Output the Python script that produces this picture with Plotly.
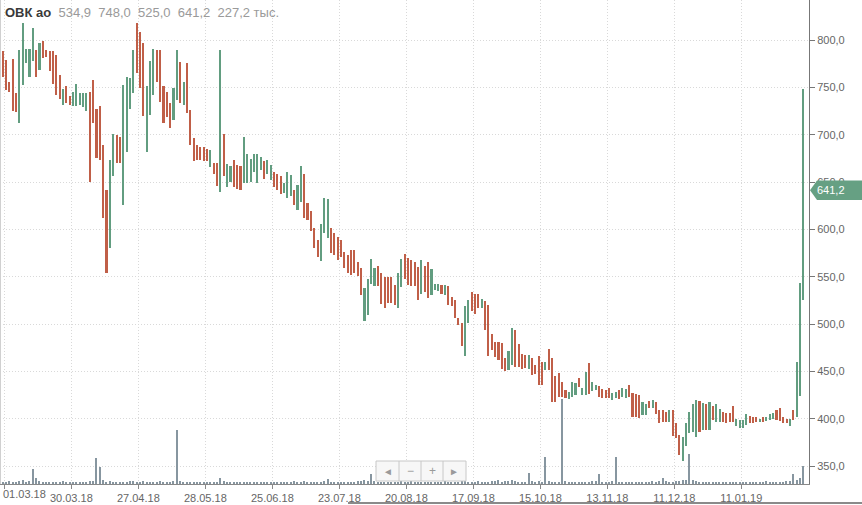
import plotly.graph_objects as go

# ---- data ----
highs = [
    788, 779, 756, 780, 744, 790, 818, 791, 791, 813,
    790, 797, 799, 790, 788, 788, 784, 763, 748, 751,
    741, 745, 754, 744, 744, 744, 745, 758, 727, 730,
    689, 642, 673, 701, 700, 698, 752, 761, 760, 790,
    818, 809, 797, 751, 778, 791, 789, 789, 751, 745,
    733, 749, 789, 777, 756, 776, 726, 697, 689, 687,
    687, 685, 684, 670, 670, 790, 701, 669, 667, 673,
    668, 667, 698, 680, 674, 680, 680, 676, 672, 673,
    668, 661, 659, 656, 649, 661, 657, 642, 647, 667,
    659, 628, 619, 601, 589, 606, 633, 632, 601, 596,
    592, 589, 576, 573, 578, 578, 566, 559, 538, 548,
    569, 559, 561, 554, 550, 550, 550, 541, 554, 569,
    574, 570, 568, 566, 560, 568, 561, 565, 558, 542,
    542, 541, 541, 540, 529, 525, 506, 501, 519, 525,
    534, 532, 532, 526, 524, 520, 489, 481, 481, 480,
    464, 471, 496, 494, 479, 468, 467, 467, 464, 457,
    466, 460, 460, 474, 464, 445, 448, 439, 430, 428,
    439, 438, 443, 432, 449, 459, 439, 436, 435, 431,
    430, 432, 427, 428, 430, 432, 431, 436, 427, 426,
    425, 418, 415, 419, 420, 418, 409, 409, 407, 409,
    409, 395, 383, 381, 395, 407, 415, 420, 419, 417,
    416, 418, 413, 415, 410, 407, 406, 406, 413, 400,
    399, 399, 405, 403, 402, 402, 400, 402, 402, 405,
    406, 409, 411, 402, 400, 400, 409, 460, 543, 748,
]
lows = [
    761, 747, 745, 725, 724, 712, 752, 776, 761, 778,
    761, 768, 781, 782, 767, 754, 742, 738, 731, 734,
    731, 730, 730, 731, 729, 725, 650, 712, 675, 673,
    612, 554, 580, 656, 670, 670, 626, 682, 727, 744,
    765, 749, 720, 682, 721, 742, 756, 735, 712, 719,
    707, 716, 737, 733, 731, 723, 689, 672, 673, 673,
    672, 672, 666, 658, 646, 640, 656, 645, 650, 645,
    643, 642, 649, 649, 650, 661, 649, 663, 653, 659,
    652, 645, 642, 637, 638, 633, 635, 626, 620, 629,
    612, 610, 598, 580, 571, 567, 596, 591, 575, 573,
    568, 571, 559, 554, 552, 554, 551, 531, 503, 510,
    542, 540, 540, 521, 517, 522, 522, 520, 517, 539,
    548, 541, 540, 540, 525, 532, 534, 527, 531, 536,
    535, 532, 531, 520, 519, 506, 499, 477, 466, 501,
    514, 511, 517, 517, 494, 466, 473, 465, 462, 453,
    450, 451, 457, 455, 455, 453, 454, 453, 446, 447,
    436, 436, 451, 451, 418, 418, 423, 423, 422, 421,
    423, 425, 434, 425, 425, 426, 429, 430, 423, 422,
    422, 422, 420, 422, 421, 423, 422, 423, 402, 402,
    401, 404, 404, 411, 411, 405, 395, 396, 396, 397,
    382, 380, 362, 355, 371, 385, 386, 381, 386, 388,
    388, 388, 399, 396, 396, 396, 395, 396, 396, 392,
    390, 390, 393, 395, 395, 396, 397, 396, 398, 399,
    400, 399, 398, 395, 395, 392, 399, 402, 424, 525,
]
# 1 = rising bar (green), 0 = falling bar (red)
rising = [
    0, 0, 0, 0, 0, 1, 1, 1, 1, 1,
    0, 1, 0, 0, 0, 0, 0, 0, 1, 0,
    0, 1, 1, 1, 1, 1, 0, 0, 0, 0,
    0, 0, 1, 1, 0, 0, 1, 1, 1, 1,
    0, 0, 0, 1, 1, 1, 0, 0, 0, 0,
    0, 1, 1, 0, 1, 0, 0, 0, 0, 0,
    0, 0, 1, 0, 0, 1, 0, 1, 1, 0,
    0, 0, 1, 1, 1, 1, 1, 1, 0, 1,
    1, 0, 0, 0, 1, 1, 1, 0, 1, 1,
    0, 0, 0, 0, 0, 1, 1, 1, 0, 0,
    0, 0, 0, 0, 0, 0, 0, 0, 1, 1,
    1, 1, 0, 0, 0, 0, 0, 0, 1, 1,
    0, 0, 0, 0, 0, 1, 0, 0, 1, 1,
    1, 0, 1, 0, 0, 0, 0, 0, 1, 1,
    0, 0, 0, 1, 0, 0, 0, 0, 0, 0,
    0, 1, 1, 0, 0, 0, 0, 1, 0, 0,
    0, 0, 1, 0, 0, 0, 0, 0, 0, 1,
    1, 1, 0, 1, 1, 0, 1, 1, 0, 0,
    0, 0, 1, 1, 0, 1, 1, 0, 0, 0,
    0, 1, 1, 0, 1, 0, 0, 0, 0, 1,
    0, 0, 0, 1, 1, 1, 1, 1, 0, 1,
    0, 1, 0, 1, 1, 0, 0, 0, 0, 1,
    1, 1, 1, 0, 0, 0, 1, 0, 1, 1,
    1, 0, 0, 0, 0, 1, 0, 1, 1, 1,
]
# volume, thousands of shares
volumes = [
    30, 25, 35, 20, 30, 40, 45, 30, 35, 190, 75, 40, 25, 20, 30, 25, 20, 30, 35, 25,
    20, 25, 30, 20, 25, 30, 40, 35, 330, 215, 45, 30, 35, 25, 20, 30, 25, 30, 35, 40,
    30, 25, 35, 30, 25, 20, 30, 35, 25, 20, 30, 40, 680, 35, 30, 25, 30, 20, 25, 30,
    25, 30, 20, 25, 30, 75, 40, 30, 25, 20, 25, 30, 20, 25, 30, 25, 20, 25, 30, 20,
    25, 20, 30, 25, 20, 25, 30, 35, 25, 30, 40, 30, 25, 20, 25, 30, 35, 65, 30, 25,
    20, 25, 30, 25, 20, 30, 35, 40, 45, 40, 125, 35, 30, 25, 20, 25, 30, 25, 30, 35,
    30, 25, 65, 30, 25, 20, 25, 30, 25, 20, 25, 30, 35, 25, 20, 25, 30, 35, 40, 30,
    25, 30, 35, 30, 25, 30, 35, 40, 45, 30, 35, 40, 45, 35, 30, 25, 30, 140, 40, 30,
    35, 30, 340, 35, 30, 25, 30, 1070, 35, 30, 25, 30, 25, 20, 25, 30, 35, 40, 125, 30,
    25, 30, 35, 340, 30, 25, 20, 25, 30, 25, 20, 25, 30, 25, 35, 30, 40, 75, 35, 30,
    30, 35, 40, 45, 50, 380, 45, 35, 30, 25, 30, 25, 20, 25, 30, 25, 20, 25, 30, 20,
    25, 20, 25, 30, 25, 20, 25, 30, 35, 30, 25, 30, 25, 30, 35, 40, 130, 50, 80, 227,
]
tick_labels = ["01.03.18", "30.03.18", "27.04.18", "28.05.18", "25.06.18", "23.07.18",
               "20.08.18", "17.09.18", "15.10.18", "13.11.18", "11.12.18", "11.01.19"]
tick_bar = [0, 20, 40, 60, 80, 100, 120, 140, 160, 180, 200, 220]  # trading-day index
last_ohlc = [534.9, 748.0, 525.0, 641.2]
last_volume_txt = "227,2 тыс."
ticker = "ОВК ао"

UP = "#629d80"
DOWN = "#c05f48"
FONT = "Liberation Sans, Arial, sans-serif"

idx = list(range(len(highs)))
fig = go.Figure()
fig.add_trace(go.Bar(
    x=idx, y=volumes, yaxis="y2", width=0.35,
    marker=dict(color="#8796a0", line_width=0), hoverinfo="skip", showlegend=False))
fig.add_trace(go.Bar(
    x=idx, base=lows, y=[h - l for h, l in zip(highs, lows)], width=0.62,
    marker=dict(color=[UP if r else DOWN for r in rising], line_width=0),
    showlegend=False))

W, H = 862, 505
ml, mr, mt, mb = 0, 53, 0, 21
pw, ph = W - ml - mr, H - mt - mb

def px(x):
    return (x - ml) / pw

def py(y):
    return (H - mb - y) / ph

shapes = []
# navigator buttons
shapes.append(dict(type="rect", xref="paper", yref="paper", x0=px(376), x1=px(466),
                   y0=py(481), y1=py(461), line=dict(color="#c8c8c8", width=1),
                   fillcolor="#f7f7f7", layer="above"))
for xd in (399, 421, 443):
    shapes.append(dict(type="line", xref="paper", yref="paper", x0=px(xd), x1=px(xd),
                       y0=py(481), y1=py(461), line=dict(color="#c8c8c8", width=1), layer="above"))
# bottom scroller line
shapes.append(dict(type="line", xref="paper", yref="paper", x0=px(348), x1=px(862),
                   y0=py(503), y1=py(503), line=dict(color="#8a8a8a", width=2)))
# left border
shapes.append(dict(type="line", xref="paper", yref="paper", x0=px(0.5), x1=px(0.5),
                   y0=py(484), y1=1, line=dict(color="#d0d0d0", width=1)))
# price flag
c = last_ohlc[3]
hh = 10.3
shapes.append(dict(type="path", xref="paper", yref="y", layer="above",
                   path=f"M {px(810)} {c} L {px(817)} {c+hh} L {px(862)} {c+hh} "
                        f"L {px(862)} {c-hh} L {px(817)} {c-hh} Z",
                   fillcolor="#66a083", line=dict(width=0)))

ann = []
vals_txt = "  ".join(f"{v:.1f}".replace(".", ",") for v in last_ohlc) + "  " + last_volume_txt
ann.append(dict(xref="paper", yref="paper", x=px(3), y=py(12), xanchor="left", yanchor="middle",
                showarrow=False,
                text=f"<b>{ticker}</b>  <span style='color:#9a9a9a'>{vals_txt}</span>",
                font=dict(family=FONT, size=13, color="#3a3a3a")))
ann.append(dict(xref="paper", yref="y", x=px(815), y=c, xanchor="left", yanchor="middle",
                showarrow=False, text=f"{c:.1f}".replace(".", ","),
                font=dict(family=FONT, size=11, color="white")))
ann.append(dict(xref="paper", yref="paper", x=px(1), y=py(494), xanchor="left", yanchor="middle",
                showarrow=False, text=tick_labels[0],
                font=dict(family=FONT, size=11, color="#666666")))
for xs, s in ((388, "◄"), (410, "−"), (432, "+"), (454, "►")):
    ann.append(dict(xref="paper", yref="paper", x=px(xs), y=py(471), xanchor="center",
                    yanchor="middle", showarrow=False, text=s,
                    font=dict(family=FONT, size=10 if s in "◄►" else 12, color="#9a9a9a")))

fig.update_layout(
    width=W, height=H, margin=dict(l=ml, r=mr, t=mt, b=mb, autoexpand=False),
    paper_bgcolor="white", plot_bgcolor="white",
    separators=", ", bargap=0, barmode="overlay",
    font=dict(family=FONT, size=11, color="#666666"),
    xaxis=dict(range=[-0.8, 240.7], tickmode="array",
               tickvals=[t + 0.5 for t in tick_bar],
               ticktext=[""] + tick_labels[1:],
               showgrid=True, gridcolor="#d9d9d9", griddash="1px,2px", gridwidth=1,
               ticks="outside", ticklen=4, tickcolor="#888888",
               showline=True, linecolor="#888888", linewidth=1,
               zeroline=False, fixedrange=True,
               tickfont=dict(family=FONT, size=11, color="#666666")),
    yaxis=dict(range=[331, 842.3], side="right", tickmode="array",
               tickvals=[350, 400, 450, 500, 550, 600, 650, 700, 750, 800],
               tickformat=".1f", showgrid=True, gridcolor="#d9d9d9", griddash="1px,2px",
               ticks="outside", ticklen=5, tickcolor="#777777",
               showline=True, linecolor="#777777", linewidth=1, zeroline=False,
               tickfont=dict(family=FONT, size=11, color="#666666")),
    yaxis2=dict(range=[0, 6100], overlaying="y", visible=False, fixedrange=True),
    shapes=shapes, annotations=ann,
)

fig.write_html("out.html", config={"displayModeBar": False},
               post_script="document.body.style.margin='0';document.body.style.overflow='hidden';")
